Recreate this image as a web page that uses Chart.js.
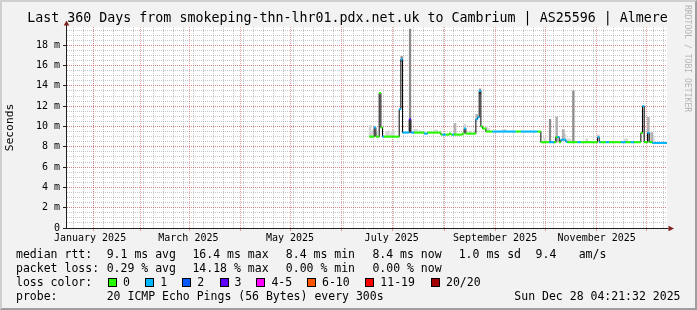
<!DOCTYPE html>
<html>
<head>
<meta charset="utf-8">
<script src="https://cdn.jsdelivr.net/npm/chart.js@4/dist/chart.umd.min.js"></script>
<style>
html,body{margin:0;padding:0;background:#f2f2f2;}
#wrap{position:relative;width:697px;height:310px;background:#f2f2f2;overflow:hidden;}
#c{position:absolute;left:0;top:0;}
#frame{position:absolute;left:0;top:0;width:697px;height:310px;box-sizing:border-box;border-style:solid;border-width:2px;border-color:#cfcfcf #9e9e9e #9e9e9e #cfcfcf;pointer-events:none;}
.t{position:absolute;font-family:'DejaVu Sans Mono',monospace;font-size:11.5px;line-height:14px;color:#000;white-space:pre;}
#title{position:absolute;left:0;top:10.4px;width:695px;text-align:center;font-family:'DejaVu Sans Mono',monospace;font-size:13.3px;line-height:16px;color:#000;white-space:pre;}
#credit{position:absolute;left:683px;top:5px;writing-mode:vertical-rl;font-family:'DejaVu Sans Mono',monospace;font-size:8.1px;line-height:9px;color:#b4b4b4;white-space:pre;}
.sw{position:absolute;top:278px;width:9px;height:9px;box-sizing:border-box;border:1px solid #000;}
</style>
</head>
<body>
<div id="wrap">
<canvas id="c" width="697" height="310"></canvas>
<div id="title">Last 360 Days from smokeping-thn-lhr01.pdx.net.uk to Cambrium | AS25596 | Almere</div>
<div id="credit">RRDTOOL / TOBI OETIKER</div>
<div id="legend"></div>
<div id="frame"></div>
</div>
<script>
// ---- time axis (day of year 2025, fractional) ----
const periodStartDay = 1.18162;     // Thu Jan 02 2025 04:21:32
const periodDays = 360;
const monthStartDays = [31, 59, 90, 120, 151, 181, 212, 243, 273, 304, 334];
const xTickLabels = ['January 2025', 'March 2025', 'May 2025', 'July 2025', 'September 2025', 'November 2025'];
const xLabelDays = [15, 74, 135, 196, 258, 319];

// ---- value axis (ms) ----
const yMax = 19.8;
const yTickValues = [0, 2, 4, 6, 8, 10, 12, 14, 16, 18];
const yTickLabels = ['0', '2 m', '4 m', '6 m', '8 m', '10 m', '12 m', '14 m', '16 m', '18 m'];

// ---- median RTT, one value per day starting at day 183 (Jul 02) ----
const firstDataDay = 183;
const medianValues = [
  9.0, 9.0, 9.0, 9.9, 9.0, 9.0, 13.3, 9.9, 9.0, 9.0,
  9.0, 9.0, 9.0, 9.0, 9.0, 9.0, 9.0, 9.0, 11.7, 16.6,
  9.4, 9.4, 9.4, 9.4, 10.7, 9.4, 9.4, 9.4, 9.4, 9.4,
  9.4, 9.4, 9.4, 9.3, 9.3, 9.4, 9.4, 9.4, 9.4, 9.4,
  9.4, 9.4, 9.4, 9.2, 9.2, 9.2, 9.2, 9.2, 9.3, 9.2,
  9.2, 9.2, 9.2, 9.2, 9.2, 9.2, 9.3, 9.8, 9.3, 9.3,
  9.3, 9.3, 9.3, 9.3, 10.7, 10.9, 13.5, 10.0, 9.8, 9.8,
  9.5, 9.5, 9.5, 9.5, 9.5, 9.5, 9.5, 9.5, 9.5, 9.5,
  9.5, 9.5, 9.5, 9.5, 9.5, 9.5, 9.5, 9.5, 9.5, 9.5,
  9.5, 9.5, 9.5, 9.5, 9.5, 9.5, 9.5, 9.5, 9.5, 9.5,
  9.5, 9.5, 9.5, 8.45, 8.45, 8.45, 8.45, 8.45, 8.45, 8.45,
  8.45, 8.45, 8.95, 8.95, 8.45, 8.7, 8.7, 8.7, 8.5, 8.45,
  8.45, 8.45, 8.45, 8.45, 8.45, 8.45, 8.45, 8.45, 8.45, 8.45,
  8.45, 8.45, 8.45, 8.45, 8.45, 8.45, 8.45, 8.94, 8.45, 8.45,
  8.45, 8.45, 8.45, 8.45, 8.45, 8.45, 8.45, 8.45, 8.45, 8.45,
  8.45, 8.45, 8.45, 8.45, 8.45, 8.45, 8.45, 8.45, 8.45, 8.45,
  8.45, 8.45, 8.45, 9.37, 12.0, 8.45, 8.45, 9.37, 8.45, 8.45,
  8.38, 8.38, 8.38, 8.38, 8.38, 8.38, 8.38, 8.38, 8.38
];
// loss bucket per day: 0 = 0, 1 = 1, 2 = 2, 3 = 3, 4 = 4-5, 5 = 6-10, 6 = 11-19, 7 = 20/20
const lossCodes = [
  0,0,0,1,0,0,0,0,1,0,
  0,0,0,0,0,0,0,0,1,1,
  1,1,1,1,3,1,1,0,0,0,
  0,0,0,1,1,0,0,0,0,0,
  0,0,0,0,1,1,0,0,0,0,
  1,0,0,0,0,0,0,1,0,0,
  0,0,0,0,1,1,1,0,0,0,
  0,0,0,0,1,1,1,1,1,1,
  1,1,1,1,1,1,1,1,0,0,
  0,1,1,1,1,1,1,1,1,1,
  1,0,0,0,0,0,0,0,1,1,
  1,0,0,1,0,1,1,1,1,0,
  0,0,0,0,0,1,1,0,0,0,
  0,0,0,0,0,0,0,1,1,0,
  0,0,1,1,0,0,0,0,0,0,
  0,1,1,1,0,0,0,1,1,0,
  0,0,0,0,1,0,0,1,0,0,
  1,1,1,1,1,1,1,1,1
];
const lossColors = ['#26ff00', '#00b8ff', '#0059ff', '#5e00ff', '#ff00ff', '#ff5500', '#ff0000', '#a10000'];
const lossLabels = ['0', '1', '2', '3', '4-5', '6-10', '11-19', '20/20'];

// ---- smoke (ping spread), shade 0 = dense, 1 = medium, 2 = light ----
const smokeDays  = [202, 207, 249, 291, 305, 234, 247, 295, 350,
                    183, 184, 187, 193, 194, 196, 197, 210, 211, 213, 222, 223, 240, 243, 246, 253, 254, 263, 264,
                    288, 299, 300, 302, 303, 313, 320, 336, 337, 352, 353];
const smokeLow   = [16.4, 9.4, 13.2, 8.45, 8.45, 9.2, 10.7, 8.45, 8.45,
                    9.0, 9.0, 9.0, 9.0, 9.0, 9.0, 9.0, 9.4, 9.4, 9.4, 9.4, 9.4, 9.8, 9.3, 9.3, 9.5, 9.5, 9.5, 9.5,
                    8.45, 8.7, 8.7, 8.45, 8.45, 8.45, 8.94, 8.45, 8.45, 8.45, 8.38];
const smokeHigh  = [16.9, 19.6, 13.7, 10.7, 13.5, 10.3, 11.2, 10.95, 10.9,
                    10.1, 9.6, 9.4, 9.5, 9.6, 9.4, 9.6, 9.7, 9.7, 9.6, 9.6, 9.65, 10.2, 9.55, 9.6, 10.0, 9.8, 9.7, 9.7,
                    8.8, 9.7, 9.2, 8.8, 8.75, 8.8, 9.2, 8.75, 8.8, 9.4, 9.0];
const smokeShade = [0, 0, 0, 0, 0, 1, 1, 1, 1,
                    2, 2, 2, 2, 2, 2, 2, 2, 2, 2, 2, 2, 2, 2, 2, 2, 2, 2, 2,
                    2, 1, 2, 2, 2, 2, 2, 2, 2, 1, 2];
const smokeColors = ['#8a8a8a', '#b2b2b2', '#d6d6d6'];

// ---- legend texts ----
const rttLegend = [['median rtt:', 16], ['9.1 ms avg', 106.7], ['16.4 ms max', 192.4], ['8.4 ms min', 285.8], ['8.4 ms now', 372.4], ['1.0 ms sd', 458.7], ['9.4', 535.6], ['am/s', 578.7]];
const lossLegend = [['packet loss:', 16], ['0.29 % avg', 106.7], ['14.18 % max', 192.4], ['0.00 % min', 285.8], ['0.00 % now', 372.4]];
const probeText = '20 ICMP Echo Pings (56 Bytes) every 300s';
const dateText = 'Sun Dec 28 04:21:32 2025';

// ---------- build legend HTML ----------
const leg = document.getElementById('legend');
function addText(txt, left, top, right) {
  const s = document.createElement('div');
  s.className = 't';
  s.textContent = txt;
  s.style.top = top + 'px';
  if (right !== undefined) s.style.right = right + 'px'; else s.style.left = left + 'px';
  leg.appendChild(s);
}
rttLegend.forEach(([t, x]) => addText(t, x, 247.0));
lossLegend.forEach(([t, x]) => addText(t, x, 261.0));
addText('loss color:', 16, 275.0);
const swatchLeft = [108, 145.3, 182.2, 219.6, 256.4, 307, 365.3, 431];
lossLabels.forEach((lab, i) => {
  const sw = document.createElement('div');
  sw.className = 'sw';
  sw.style.left = swatchLeft[i] + 'px';
  sw.style.background = lossColors[i];
  leg.appendChild(sw);
  addText(lab, swatchLeft[i] + 15, 275.0);
});
addText('probe:', 16, 288.7);
addText(probeText, 106.7, 288.7);
addText(dateText, 0, 288.7, 697 - 680.5);

// ---------- chart ----------
const xMin = periodStartDay, xMax = periodStartDay + periodDays;
const minorXDays = [];
for (let d = 5; d < xMax; d += 6) minorXDays.push(d);
const minorYValues = [];
for (let v = 0.5; v < yMax; v += 0.5) minorYValues.push(v);

const GRID = 'rgba(143,143,143,0.5)';
const MGRID = 'rgba(222,79,79,0.55)';
const MONO = 'DejaVu Sans Mono';

const axisPlugin = {
  id: 'rrdAxes',
  beforeDraw(chart) {
    const {ctx, chartArea: a} = chart;
    ctx.save();
    ctx.fillStyle = '#ffffff';
    ctx.fillRect(a.left, a.top, a.right - a.left, a.bottom - a.top);
    ctx.restore();
  },
  afterDraw(chart) {
    const {ctx, chartArea: a} = chart;
    const x0 = Math.round(a.left) - 0.5, y0 = Math.round(a.bottom) + 0.5;
    ctx.save();
    ctx.strokeStyle = '#1f1f1f';
    ctx.lineWidth = 1;
    ctx.beginPath();
    ctx.moveTo(x0, y0); ctx.lineTo(a.right + 1.5, y0);
    ctx.moveTo(x0, y0); ctx.lineTo(x0, a.top - 2);
    ctx.stroke();
    ctx.fillStyle = '#801f1f';
    ctx.beginPath();
    ctx.moveTo(x0, a.top - 6.5); ctx.lineTo(x0 - 2.8, a.top - 1.5); ctx.lineTo(x0 + 2.8, a.top - 1.5); ctx.closePath();
    ctx.fill();
    ctx.beginPath();
    ctx.moveTo(a.right + 7, y0); ctx.lineTo(a.right + 1.5, y0 - 2.8); ctx.lineTo(a.right + 1.5, y0 + 2.8); ctx.closePath();
    ctx.fill();
    ctx.restore();
  }
};

const medianPoints = medianValues.map((v, i) => ({x: firstDataDay + i, y: v}));
const smokePoints = smokeDays.map((d, i) => ({x: d, y: [smokeLow[i], smokeHigh[i]], s: smokeShade[i]}));

const datasets = [
  {
    type: 'line', label: 'median rtt', xAxisID: 'x', yAxisID: 'y', order: 0,
    data: medianPoints,
    borderColor: '#000000', borderWidth: 1, stepped: 'middle',
    pointStyle: 'line', pointRadius: 1, pointHoverRadius: 1, pointBorderWidth: 2,
    pointBorderColor: c => lossColors[lossCodes[c.dataIndex]],
    pointBackgroundColor: c => lossColors[lossCodes[c.dataIndex]]
  }
];
[0, 1, 2].forEach(s => {
  datasets.push({
    type: 'bar', label: 'smoke' + s, xAxisID: 'x', yAxisID: 'y', order: 8 + s,
    data: smokePoints.filter(p => p.s === s),
    backgroundColor: smokeColors[s], borderWidth: 0, barThickness: s === 0 ? 1.6 : 2, grouped: false
  });
});

new Chart(document.getElementById('c'), {
  type: 'line',
  data: {datasets},
  plugins: [axisPlugin],
  options: {
    responsive: false, maintainAspectRatio: false, animation: false, devicePixelRatio: 1,
    layout: {padding: {top: 27, right: 30, left: 0, bottom: 0}, autoPadding: false},
    plugins: {legend: {display: false}, tooltip: {enabled: false}, title: {display: false}},
    events: [],
    scales: {
      xMinor: {
        type: 'linear', axis: 'x', position: 'bottom', min: xMin, max: xMax, weight: 0,
        afterBuildTicks: s => { s.ticks = minorXDays.map(v => ({value: v})); },
        afterFit: s => { s.height = 0; },
        ticks: {display: false},
        grid: {color: GRID, lineWidth: 1, drawTicks: false},
        border: {display: false, dash: [1, 1]}
      },
      yMinor: {
        type: 'linear', axis: 'y', position: 'left', min: 0, max: yMax, weight: 1,
        afterBuildTicks: s => { s.ticks = minorYValues.map(v => ({value: v})); },
        afterFit: s => { s.width = 0; },
        ticks: {display: false},
        grid: {color: GRID, lineWidth: 1, drawTicks: false},
        border: {display: false, dash: [1, 1]}
      },
      x: {
        type: 'linear', axis: 'x', position: 'bottom', min: xMin, max: xMax, weight: 0, offset: false,
        afterBuildTicks: s => { s.ticks = monthStartDays.map(v => ({value: v})); },
        afterFit: s => { s.height = 0; },
        ticks: {display: false},
        grid: {color: MGRID, lineWidth: 1, drawTicks: true, tickLength: 3, tickColor: MGRID, tickBorderDash: []},
        border: {display: false, dash: [1, 1]}
      },
      y: {
        type: 'linear', axis: 'y', position: 'left', min: 0, max: yMax, weight: 0,
        afterBuildTicks: s => { s.ticks = yTickValues.map(v => ({value: v})); },
        afterFit: s => { s.width = 67; },
        ticks: {
          color: '#000', padding: 3, autoSkip: false,
          font: {family: MONO, size: 10},
          callback: (v, i) => yTickLabels[i]
        },
        grid: {color: MGRID, lineWidth: 1, drawTicks: true, tickLength: 4, tickColor: '#1f1f1f', tickBorderDash: []},
        border: {display: false, dash: [1, 1]},
        title: {display: true, text: 'Seconds', color: '#000', font: {family: MONO, size: 11.3}, padding: {top: 3.4, bottom: 0}}
      },
      xLabels: {
        type: 'linear', axis: 'x', position: 'bottom', min: xMin, max: xMax, weight: 2,
        afterBuildTicks: s => { s.ticks = xLabelDays.map(v => ({value: v})); },
        afterFit: s => { s.height = 82; },
        ticks: {
          color: '#000', padding: 4, autoSkip: false, maxRotation: 0, minRotation: 0,
          font: {family: MONO, size: 10},
          callback: (v, i) => xTickLabels[i]
        },
        grid: {display: false, drawTicks: false},
        border: {display: false}
      }
    }
  }
});
</script>
</body>
</html>
